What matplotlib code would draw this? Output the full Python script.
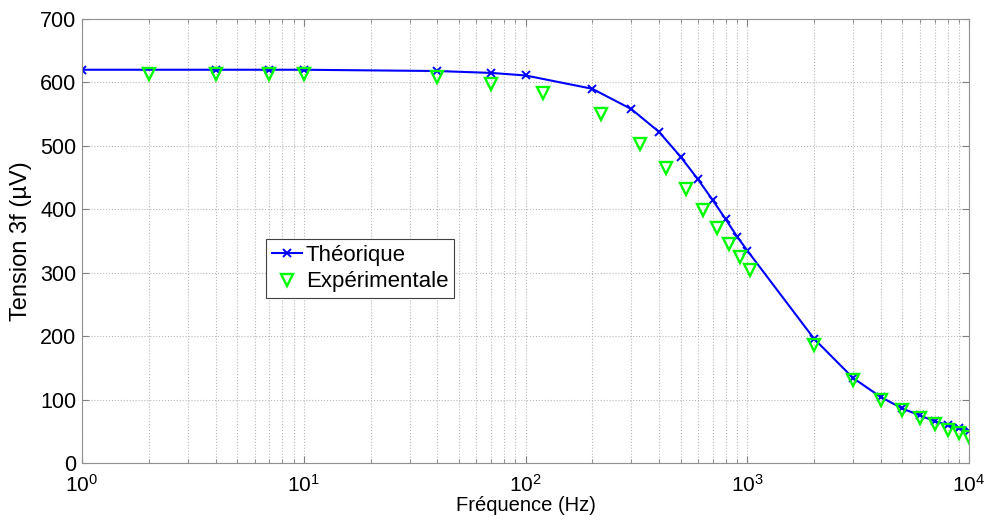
import matplotlib
matplotlib.use('Agg')
import matplotlib.pyplot as plt
from matplotlib.ticker import LogLocator, NullFormatter
import numpy as np

plt.rcParams['font.family'] = ['Liberation Sans', 'DejaVu Sans']
plt.rcParams['mathtext.fontset'] = 'custom'
plt.rcParams['mathtext.rm'] = 'Liberation Sans'

# theoretical curve (Hz, uV)
f_theo = [1, 4, 7, 10, 40, 70, 100, 200, 300, 400, 500, 600, 700, 800, 900, 1000,
          2000, 3000, 4000, 5000, 6000, 7000, 8000, 9000, 10000]
v_theo = [620, 620, 620, 620, 618, 615, 611, 590, 558, 522, 483, 447, 414, 384, 357, 335,
          196, 134, 104, 86, 75, 66, 60, 55, 50]

# experimental points
f_exp = [2, 4, 7, 10, 40, 70, 120, 220, 330, 430, 530, 630, 730, 830, 930, 1030,
         2000, 3000, 4000, 5000, 6000, 7000, 8000, 9000, 10000]
v_exp = [614, 614, 614, 614, 608, 598, 583, 550, 503, 465, 432, 399, 371, 346, 324, 305,
         186, 131, 99, 83, 71, 61, 52, 47, 41]

fig = plt.figure(figsize=(9.89, 5.25), dpi=100)
ax = fig.add_axes([0.0829, 0.1181, 0.8969, 0.8457])

ax.semilogx(f_theo, v_theo, color='#0000ff', lw=1.5, marker='x', ms=6, mew=1.4,
            label='Théorique')
ax.semilogx(f_exp, v_exp, ls='none', marker='v', ms=8.5, mfc='none', mec='#00ff00',
            mew=1.7, label='Expérimentale')

ax.set_xlim(1, 1e4)
ax.set_ylim(0, 700)
ax.set_yticks(np.arange(0, 701, 100))
ax.xaxis.set_minor_locator(LogLocator(base=10, subs=np.arange(2, 10), numticks=20))
ax.xaxis.set_minor_formatter(NullFormatter())

ax.grid(True, which='major', ls=':', color='#b8b8b8', lw=0.8)
ax.grid(True, which='minor', axis='x', ls=':', color='#b8b8b8', lw=0.8)
ax.tick_params(which='both', direction='in', top=True, right=True, color='#808080')
ax.tick_params(axis='y', labelsize=15.5, pad=4)
ax.tick_params(axis='x', labelsize=15, pad=8)
ax.tick_params(which='major', length=5)
ax.tick_params(which='minor', length=3)
for s in ax.spines.values():
    s.set_color('#909090')

ax.set_xlabel('Fréquence (Hz)', fontsize=14.5, labelpad=0)
ax.set_ylabel('Tension 3f (µV)', fontsize=17, labelpad=6)

leg = ax.legend(loc='lower left', bbox_to_anchor=(0.2074, 0.3716), borderaxespad=0,
                fontsize=16, fancybox=False, edgecolor='#404040', framealpha=1,
                handlelength=1.35, borderpad=0.25, labelspacing=0.25, handletextpad=0.2)
leg.get_frame().set_linewidth(0.8)

fig.savefig('out.png', dpi=100)
